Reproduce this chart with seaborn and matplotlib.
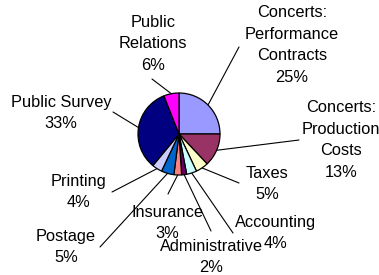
import matplotlib
matplotlib.use("Agg")
import matplotlib.pyplot as plt
import seaborn as sns
import numpy as np

categories = ["Concerts:\nPerformance\nContracts", "Concerts:\nProduction\nCosts",
              "Taxes", "Accounting", "Administrative", "Insurance", "Postage",
              "Printing", "Public Survey", "Public\nRelations"]
shares = [25, 13, 5, 4, 2, 3, 5, 4, 33, 6]
colors = ["#9999FF", "#993366", "#FFFFCC", "#CCFFFF", "#660066", "#FF8080",
          "#0066CC", "#CCCCFF", "#000080", "#FF00FF"]

# layout (pixels from top-left): label centres and leader-line ends
label_px = [(292, 45), (341, 140), (267, 184), (276, 233), (211, 257),
            (167, 223), (66, 247), (78, 192), (61, 113), (153, 44)]
line_end_px = [(239, 47), (299, 140), (239, 183), (233, 233), (211, 231),
               (168, 194), (100, 247), (112, 192), (113, 112), (152, 79)]

sns.set_style("white")
plt.rcParams['font.family'] = ['Liberation Sans', 'DejaVu Sans']

W, H = 379, 275
fig = plt.figure(figsize=(W / 100, H / 100), dpi=100)
ax = fig.add_axes([0, 0, 1, 1])
R = 41.0
cx, cy = 179, 134

wedges, _ = ax.pie(shares, colors=colors, startangle=90, counterclock=False,
                   radius=1, wedgeprops=dict(edgecolor='black', linewidth=0.9))
ax.set_xlim(-cx / R, (W - cx) / R)
ax.set_ylim(-(H - cy) / R, cy / R)
ax.set_aspect('equal')
ax.axis('off')


def px2data(x, y):
    return ((x - cx) / R, (cy - y) / R)


total = sum(shares)
for w, cat, v, lp, le in zip(wedges, categories, shares, label_px, line_end_px):
    ang = np.deg2rad((w.theta1 + w.theta2) / 2)
    sx, sy = np.cos(ang), np.sin(ang)
    ex, ey = px2data(*le)
    ax.plot([sx, ex], [sy, ey], color='black', lw=0.8, zorder=0.5)
    tx, ty = px2data(*lp)
    ax.text(tx, ty, f"{cat}\n{round(v / total * 100)}%", ha='center', va='center',
            fontsize=11.8, linespacing=1.55, color='black')

fig.savefig("out.png", dpi=100, facecolor='white')
